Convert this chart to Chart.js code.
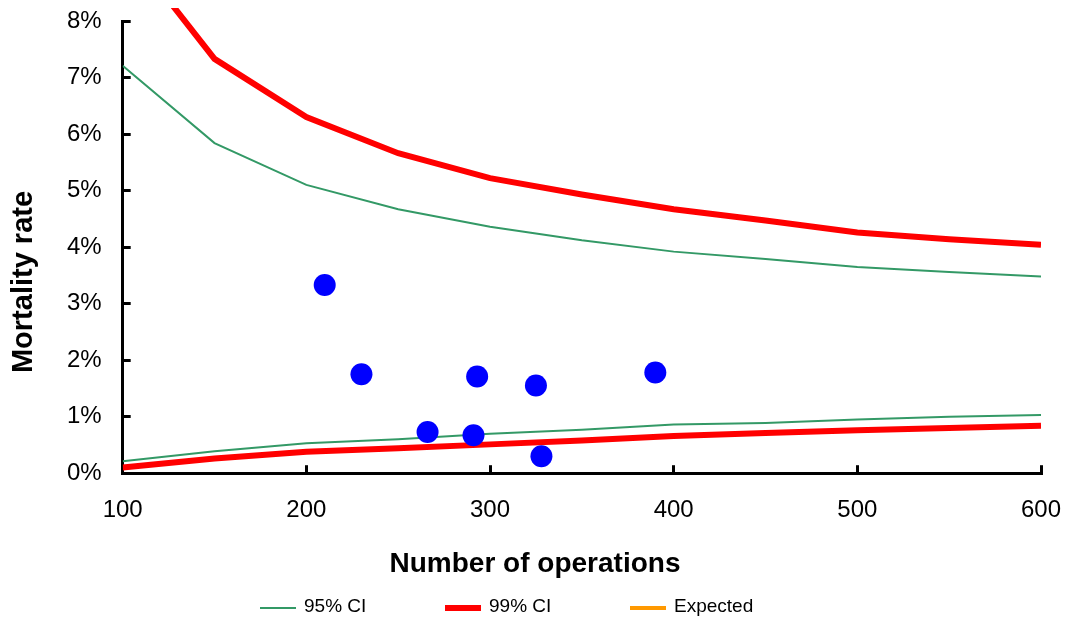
<!DOCTYPE html>
<html>
<head>
<meta charset="utf-8">
<script src="https://cdn.jsdelivr.net/npm/chart.js@4/dist/chart.umd.min.js"></script>
<style>
  html, body { margin: 0; padding: 0; background: #fff; }
  #wrap { width: 1071px; height: 622px; }
</style>
</head>
<body>
<div id="wrap"><canvas id="funnel" width="1071" height="622"></canvas></div>
<script>
// hospital results
const ops = [210, 230, 266, 291, 293, 325, 328, 390];
const rates = [3.33, 1.75, 0.73, 0.67, 1.71, 1.55, 0.30, 1.78];

// control limits
const limitN = [100, 150, 200, 250, 300, 350, 400, 450, 500, 550, 600];
const upper95 = [7.21, 5.84, 5.10, 4.67, 4.36, 4.12, 3.92, 3.79, 3.65, 3.56, 3.48];
const lower95 = [0.21, 0.39, 0.53, 0.60, 0.70, 0.77, 0.86, 0.89, 0.95, 1.00, 1.03];
const upper99 = [9.40, 7.33, 6.30, 5.66, 5.22, 4.93, 4.67, 4.47, 4.26, 4.14, 4.04];
const lower99 = [0.10, 0.26, 0.38, 0.44, 0.51, 0.58, 0.66, 0.71, 0.76, 0.80, 0.84];
const expected = [];

const xTicks = [100, 200, 300, 400, 500, 600];
const yTicks = [0, 1, 2, 3, 4, 5, 6, 7, 8];

const FONT = "'Liberation Sans', Arial, sans-serif";
const GREEN = '#339966';
const RED = '#ff0000';
const ORANGE = '#ff9900';

const pts = (xs, ys) => xs.map((x, i) => ({ x, y: ys[i] }));
const lineClip = { left: 0, top: 13, right: 0, bottom: 0 };

const lineSet = (label, data, color, width, legend) => ({
  type: 'line', label, data, borderColor: color, backgroundColor: color,
  borderWidth: width, pointRadius: 0, pointHoverRadius: 0, tension: 0, fill: false, clip: lineClip, legend
});

// axis titles + legend drawn by hand so they can sit where the original has them
const extras = {
  id: 'extras',
  afterDraw(chart) {
    const ctx = chart.ctx;
    ctx.save();
    ctx.fillStyle = '#000';
    ctx.textAlign = 'center';
    ctx.textBaseline = 'middle';
    ctx.font = 'bold 28px ' + FONT;
    ctx.fillText('Number of operations', 535, 564);

    ctx.save();
    ctx.translate(24, 282);
    ctx.rotate(-Math.PI / 2);
    ctx.font = 'bold 29px ' + FONT;
    ctx.fillText('Mortality rate', 0, 0);
    ctx.restore();

    ctx.font = '19px ' + FONT;
    ctx.textAlign = 'left';
    let x = 260;
    chart.data.datasets.filter(d => d.legend).forEach(d => {
      ctx.strokeStyle = d.borderColor;
      ctx.lineWidth = d.legend;
      ctx.beginPath();
      ctx.moveTo(x, 608);
      ctx.lineTo(x + 36, 608);
      ctx.stroke();
      ctx.fillText(d.label, x + 44, 607);
      x += 185;
    });
    ctx.restore();
  }
};

// tick padding otherwise also gets added to the label overhang
const noOverhang = s => {
  s.paddingTop = 0; s.paddingBottom = 0; s.paddingLeft = 0; s.paddingRight = 0;
};

new Chart(document.getElementById('funnel'), {
  type: 'scatter',
  data: {
    datasets: [
      {
        label: 'Hospitals', data: pts(ops, rates),
        backgroundColor: '#0000ff', borderColor: '#0000ff',
        pointRadius: 11, pointHoverRadius: 11, borderWidth: 0
      },
      lineSet('95% CI', pts(limitN, upper95), GREEN, 2, 2),
      lineSet('95% CI lower', pts(limitN, lower95), GREEN, 2, 0),
      lineSet('99% CI', pts(limitN, upper99), RED, 6, 6),
      lineSet('99% CI lower', pts(limitN, lower99), RED, 6, 0),
      lineSet('Expected', expected, ORANGE, 4, 4)
    ]
  },
  options: {
    responsive: false,
    animation: false,
    layout: { autoPadding: false, padding: { left: 38, right: 30, top: 21, bottom: 66 } },
    plugins: {
      legend: { display: false },
      tooltip: { enabled: false }
    },
    scales: {
      x: {
        type: 'linear', min: 100, max: 600,
        afterBuildTicks: s => { s.ticks = xTicks.map(v => ({ value: v })); },
        afterFit: noOverhang,
        ticks: { color: '#000', font: { family: FONT, size: 24 }, padding: 31 },
        grid: { drawOnChartArea: false, tickLength: -8, tickWidth: 3, tickColor: '#000' },
        border: { color: '#000', width: 3 }
      },
      y: {
        min: 0, max: 8,
        afterBuildTicks: s => { s.ticks = yTicks.map(v => ({ value: v })); },
        afterFit: noOverhang,
        ticks: { color: '#000', font: { family: FONT, size: 24 }, padding: 29, callback: v => v + '%' },
        grid: { drawOnChartArea: false, tickLength: -8, tickWidth: 3, tickColor: '#000' },
        border: { color: '#000', width: 3 }
      }
    }
  },
  plugins: [extras]
});
</script>
</body>
</html>
